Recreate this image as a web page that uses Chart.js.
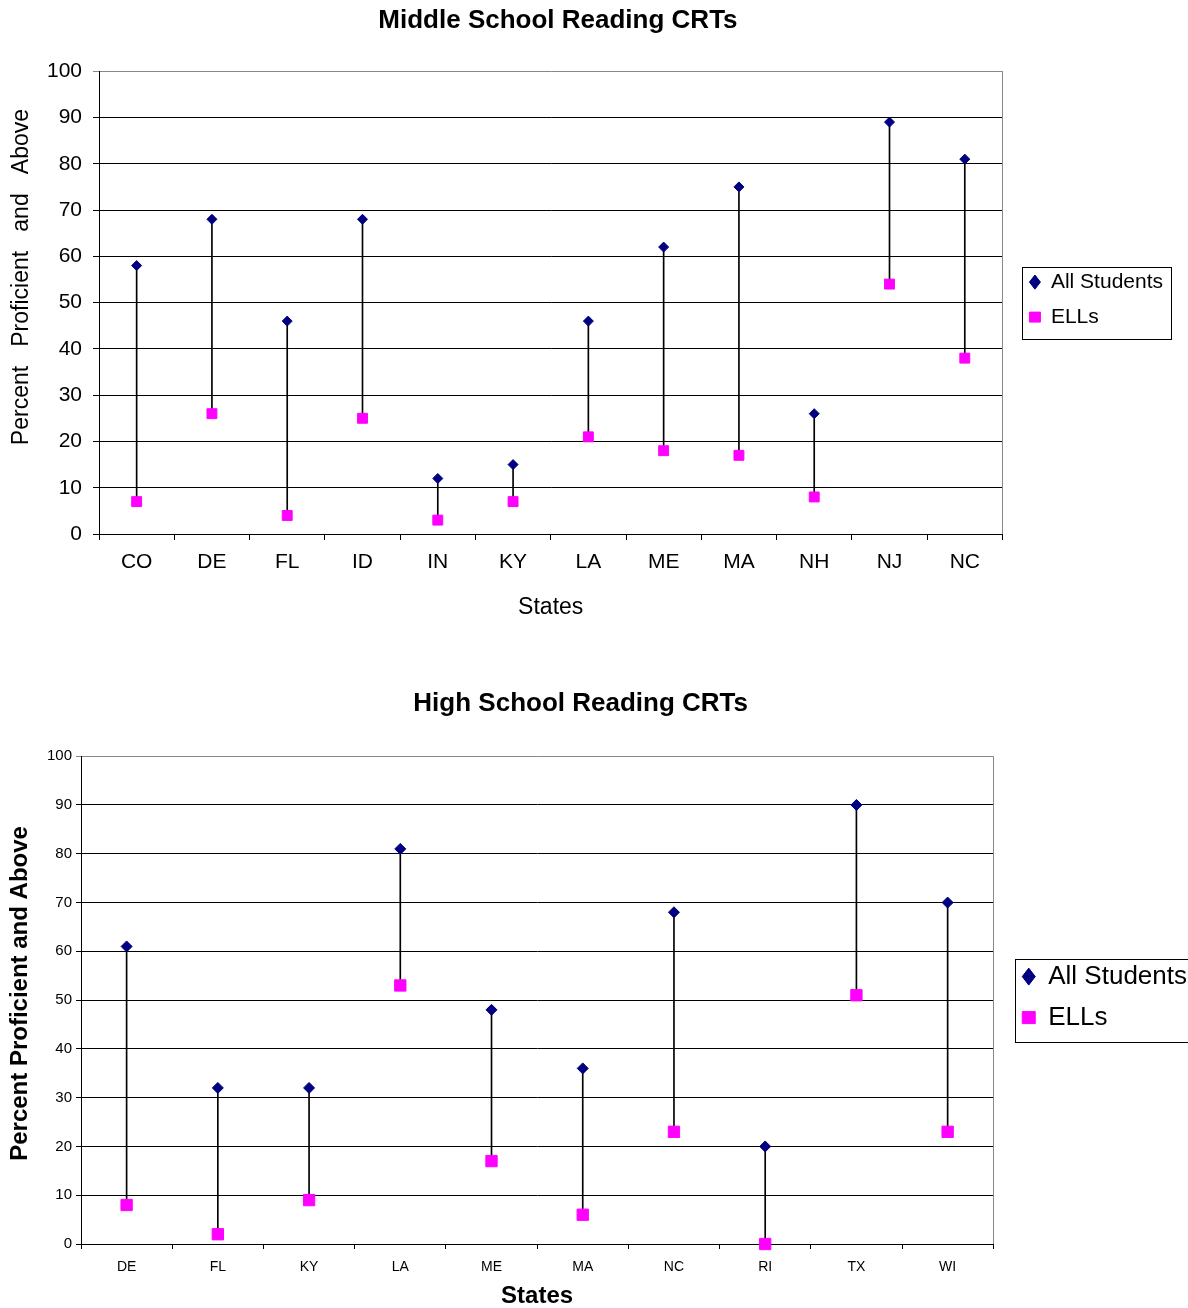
<!DOCTYPE html>
<html lang="en">
<head>
  <meta charset="UTF-8">
  <title>Reading CRTs - All Students vs ELLs</title>
  <script src="https://cdn.jsdelivr.net/npm/chart.js"></script>
  <style>
    body { margin: 0; background: #fff; overflow: hidden; }
    .chart-box { position: absolute; left: 0; width: 1188px; }
    #middleBox { top: 0; height: 640px; }
    #highBox { top: 660px; height: 648px; }
  </style>
</head>
<body>
  <div class="chart-box" id="middleBox"><canvas id="middleChart"></canvas></div>
  <div class="chart-box" id="highBox"><canvas id="highChart"></canvas></div>

  <script>
    // Middle school reading, percent proficient and above
    const middleStates = ['CO', 'DE', 'FL', 'ID', 'IN', 'KY', 'LA', 'ME', 'MA', 'NH', 'NJ', 'NC'];
    const middleAll = [58, 68, 46, 68, 12, 15, 46, 62, 75, 26, 89, 81];
    const middleEll = [7, 26, 4, 25, 3, 7, 21, 18, 17, 8, 54, 38];

    // High school reading, percent proficient and above
    const highStates = ['DE', 'FL', 'KY', 'LA', 'ME', 'MA', 'NC', 'RI', 'TX', 'WI'];
    const highAll = [61, 32, 32, 81, 48, 36, 68, 20, 90, 70];
    const highEll = [8, 2, 9, 53, 17, 6, 23, 0, 51, 23];

    const yMin = 0, yMax = 100, yStep = 10;

    Chart.defaults.font.family = "'Liberation Sans', Arial, sans-serif";
    Chart.defaults.color = '#000';

    // nudges the legend and draws a box round its items
    const legendFrame = {
      id: 'legendFrame',
      afterLayout(chart, args, opts) {
        const lg = chart.legend;
        lg.left += opts.shift;
        lg.right += opts.shift;
        lg.top += opts.shiftY;
        lg.bottom += opts.shiftY;
      },
      afterDraw(chart, args, opts) {
        const boxes = chart.legend.legendHitBoxes;
        if (!boxes || !boxes.length) return;
        const x0 = Math.min(...boxes.map(b => b.left)) - 7;
        const x1 = Math.max(...boxes.map(b => b.left + b.width)) + 8;
        const y0 = Math.min(...boxes.map(b => b.top)) - opts.above;
        const y1 = Math.max(...boxes.map(b => b.top + b.height)) + opts.below;
        const ctx = chart.ctx;
        ctx.save();
        ctx.strokeStyle = '#000';
        ctx.lineWidth = 1;
        ctx.strokeRect(Math.round(x0) + 0.5, Math.round(y0) + 0.5, Math.round(x1 - x0), Math.round(y1 - y0));
        ctx.restore();
      }
    };

    // grey right edge of the plot area
    const plotFrame = {
      id: 'plotFrame',
      beforeDatasetsDraw(chart) {
        const { ctx, chartArea: a } = chart;
        const x = Math.round(a.right) + 0.5;
        ctx.save();
        ctx.strokeStyle = '#888';
        ctx.lineWidth = 1;
        ctx.beginPath();
        ctx.moveTo(x, a.top);
        ctx.lineTo(x, a.bottom);
        ctx.stroke();
        ctx.restore();
      }
    };

    function buildChart(id, states, allVals, ellVals, s) {
      const ctx = document.getElementById(id).getContext('2d');
      return new Chart(ctx, {
        type: 'bar',
        data: {
          labels: states,
          datasets: [
            {
              type: 'line',
              label: 'All Students',
              data: allVals,
              showLine: false,
              pointStyle: 'rectRot',
              pointRadius: s.diamond,
              pointBorderWidth: 1,
              borderWidth: 1,
              backgroundColor: '#000080',
              borderColor: '#000080',
              clip: false,
              order: 0
            },
            {
              type: 'line',
              label: 'ELLs',
              data: ellVals,
              showLine: false,
              pointStyle: 'rect',
              pointRadius: s.square,
              pointBorderWidth: 1,
              borderWidth: 1,
              backgroundColor: '#FF00FF',
              borderColor: '#FF00FF',
              clip: false,
              order: 1
            },
            {
              // drop line from ELLs up to All Students
              label: 'gap',
              data: ellVals.map((v, i) => [v, allVals[i]]),
              backgroundColor: '#000',
              barThickness: 1,
              order: 2
            }
          ]
        },
        options: {
          responsive: true,
          maintainAspectRatio: false,
          animation: false,
          events: [],
          layout: { padding: { right: s.padRight } },
          scales: {
            x: {
              offset: true,
              grid: { offset: true, drawOnChartArea: false, tickLength: s.tick, color: '#000' },
              border: { color: '#000' },
              ticks: { font: s.xFont, padding: 10, color: '#000', autoSkip: false, maxRotation: 0 },
              title: {
                display: true, text: 'States', color: '#000',
                font: s.xTitleFont, padding: { top: 0, bottom: s.xTitlePad }
              },
              afterFit: sc => { sc.height = s.xHeight; }
            },
            y: {
              min: yMin,
              max: yMax,
              grid: {
                tickLength: s.tick,
                color: c => (c.tick && c.tick.value === yMax) ? '#888' : '#000'
              },
              border: { color: '#000' },
              ticks: { stepSize: yStep, font: s.yFont, padding: s.yTickPad, color: '#000' },
              title: {
                display: true, text: s.yTitle, color: '#000',
                font: s.yTitleFont, padding: { top: s.yTitlePad, bottom: 0 }
              },
              afterFit: sc => { sc.width = s.yWidth; }
            }
          },
          plugins: {
            title: {
              display: true,
              text: s.title,
              color: '#000',
              fullSize: s.titleFull,
              font: { size: 26, weight: 'bold', lineHeight: 1.2 },
              padding: s.titlePad
            },
            legend: {
              position: 'right',
              fullSize: false,
              labels: {
                usePointStyle: true,
                pointStyleWidth: s.legendBox,
                boxHeight: s.legendBox - 1,
                padding: s.legendPad,
                color: '#000',
                font: { size: s.legendFont },
                filter: item => item.datasetIndex < 2
              }
            },
            tooltip: { enabled: false },
            legendFrame: s.frame
          }
        },
        plugins: [legendFrame, plotFrame]
      });
    }

    buildChart('middleChart', middleStates, middleAll, middleEll, {
      title: '  Middle School Reading CRTs',
      titleFull: false,
      titlePad: { top: 5, bottom: 35 },
      yTitle: '        Percent   Proficient   and   Above',
      yTitleFont: { size: 23, lineHeight: 1.2 },
      yTitlePad: 8,
      yFont: { size: 21 },
      yTickPad: 11,
      yWidth: 99,
      xFont: { size: 21, lineHeight: 1.2 },
      xTitleFont: { size: 23, lineHeight: 1.2 },
      xTitlePad: 19,
      xHeight: 106,
      tick: 6,
      diamond: 5,
      square: 7,
      padRight: 28,
      legendFont: 21,
      legendPad: 14,
      legendBox: 11,
      frame: { shift: 13, shiftY: -3, above: 5, below: 11 }
    });

    buildChart('highChart', highStates, highAll, highEll, {
      title: 'High School Reading CRTs   ',
      titleFull: true,
      titlePad: { top: 28, bottom: 37 },
      yTitle: '  Percent Proficient and Above',
      yTitleFont: { size: 24, weight: 'bold', lineHeight: 1.2 },
      yTitlePad: 6,
      yFont: { size: 15 },
      yTickPad: 4,
      yWidth: 81,
      xFont: { size: 14, lineHeight: 1.2, family: "'Liberation Sans Narrow', 'Liberation Sans', Arial, sans-serif" },
      xTitleFont: { size: 24, weight: 'bold', lineHeight: 1.0 },
      xTitlePad: 0,
      xHeight: 64,
      tick: 5,
      diamond: 5.5,
      square: 8,
      padRight: 5,
      legendFont: 26,
      legendPad: 15,
      legendBox: 13,
      frame: { shift: 14, shiftY: -3, above: 5, below: 11 }
    });
  </script>
</body>
</html>
